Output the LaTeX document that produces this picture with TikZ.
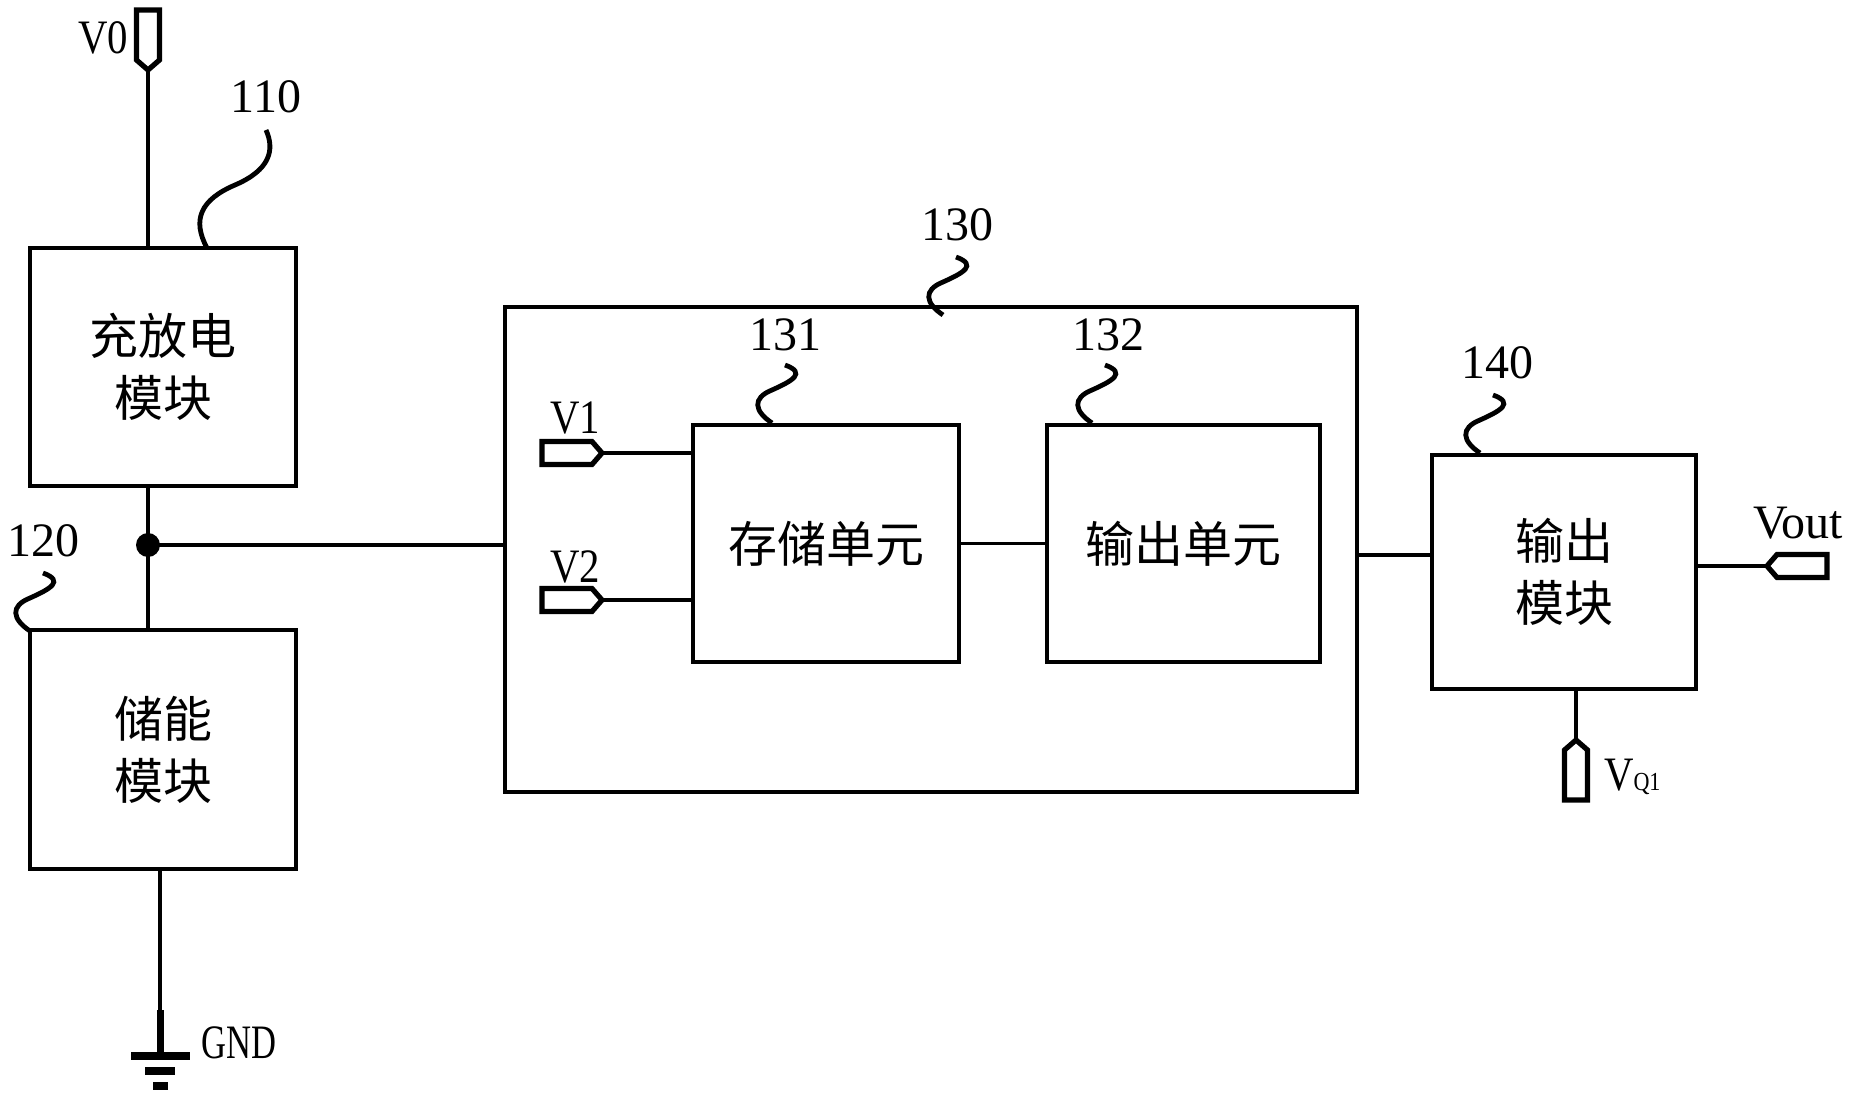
\documentclass[tikz,border=0pt]{standalone}
\usepackage{fontspec}
\setmainfont{Liberation Serif}
\newfontfamily\cjk{Noto Sans CJK SC}
\usetikzlibrary{positioning}

\begin{document}
\begin{tikzpicture}[
  x=0.5pt, y=-0.5pt,
  line width=1.6pt,
  every node/.style={font=\fontsize{24}{30}\selectfont},
  block/.style={draw, align=center, inner sep=0pt,
    font=\cjk\fontsize{24.5}{31}\selectfont},
  narrow/.style={xscale=0.85, transform shape},
  lead/.pic={
    \draw[line width=2.4pt] (0,0) .. controls (-18,-12) and (-20,-25) .. (0,-33)
      .. controls (20,-42) and (35,-50) .. (13,-58);
  },
  term/.pic={
    \draw[line width=2.6pt, line join=miter]
      (0,0) -- (-10,-11.5) -- (-60,-11.5) -- (-60,11.5) -- (-10,11.5) -- cycle;
  }
]
\useasboundingbox (0,0) rectangle (1856,1101);

% blocks
\node[block, minimum width=133pt, minimum height=119pt] (chg) at (163,367) {充放电\\模块};
\node[block, minimum width=133pt, minimum height=119.5pt] (sto) at (163,749.5) {储能\\模块};
\node[block, minimum width=426pt, minimum height=242.5pt] (mem) at (931,549.5) {};
\node[block, minimum width=133pt, minimum height=118.5pt] (memu) at (826,543.5) {存储单元};
\node[block, minimum width=136.5pt, minimum height=118.5pt] (outu) at (1183.5,543.5) {输出单元};
\node[block, minimum width=132pt, minimum height=117pt] (outm) at (1564,572) {输出\\模块};

% reference numbers
\node (l110) at (266,97) {110};
\node (l120) at (43,541) {120};
\node (l130) at (957,225) {130};
\node (l131) at (785,335) {131};
\node (l132) at (1108,335) {132};
\node (l140) at (1497,363) {140};
\draw[line width=2.4pt] (207,248) .. controls (192,220) and (200,200) .. (235,185)
  .. controls (270,170) and (275,150) .. (266,130);
\pic at (30,631) {lead};
\pic at (943,315) {lead};
\pic at (772,423) {lead};
\pic at (1092,423) {lead};
\pic at (1480,453) {lead};

% supply and ground
\coordinate (v0) at (148,70);
\pic[rotate=-90] at (v0) {term};
\node[narrow] (lv0) at (103,38) {V0};
\draw (v0) -- (v0 |- chg.north);
\draw (v0 |- chg.south) -- (v0 |- sto.north);
\coordinate (jn) at (148,545);
\fill (jn) circle (6pt);
\draw (jn) -- (jn -| mem.west);

\coordinate (gnd) at (160,1052);
\draw (sto.south -| gnd) -- (gnd);
\draw[line width=3.5pt] (gnd) -- ++(0,-42);
\fill (gnd) ++(-29.5,0) rectangle ++(59,8);
\fill (gnd) ++(-15,15) rectangle ++(30,7.5);
\fill (gnd) ++(-7.5,30) rectangle ++(15,8);
\node[anchor=west, xscale=0.72, transform shape] (lgnd) at (196,1043) {GND};

% inputs of 130
\coordinate (v1) at (602,453);
\pic at (v1) {term};
\node[narrow] (lv1) at (575,418) {V1};
\draw (v1) -- (v1 -| memu.west);
\coordinate (v2) at (602,600);
\pic at (v2) {term};
\node[narrow] (lv2) at (575,567) {V2};
\draw (v2) -- (v2 -| memu.west);
\draw (memu.east) -- (memu.east -| outu.west);
\draw ([yshift=-2.75pt]mem.east) -- ([yshift=-2.75pt]mem.east -| outm.west);

% output module
\coordinate (vout) at (1767,566);
\pic[xscale=-1] at (vout) {term};
\node (lvout) at (1798,523) {Vout};
\draw (vout -| outm.east) -- (vout);
\coordinate (vq) at (1576,740);
\pic[rotate=90] at (vq) {term};
\node[anchor=base west, narrow] (lvq) at (1597,790) {V{\fontsize{13}{13}\selectfont Q1}};
\draw (vq |- outm.south) -- (vq);
\end{tikzpicture}
\end{document}
